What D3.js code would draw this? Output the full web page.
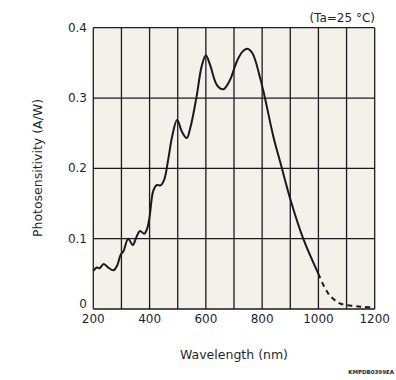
<!DOCTYPE html>
<html><head><meta charset="utf-8">
<script src="https://cdn.jsdelivr.net/npm/d3@7"></script>
<style>body{margin:0;background:#fff;} text{font-family:"DejaVu Sans",Verdana,sans-serif;fill:#1f1f33;}</style>
</head><body>
<script>
const wavelength = [200,212,222,237,250,272,285,297,307,324,340,352,366,381,392,400,413,425,440,452,466,480,498,515,532,545,567,585,600,615,640,662,685,710,730,747,765,792,810,840,869,901,946,1000];
const photosensitivity = [0.054,0.059,0.058,0.064,0.060,0.055,0.062,0.077,0.082,0.100,0.091,0.101,0.111,0.107,0.115,0.131,0.168,0.176,0.176,0.184,0.212,0.245,0.269,0.252,0.243,0.258,0.302,0.345,0.361,0.347,0.318,0.3125,0.325,0.352,0.366,0.370,0.364,0.330,0.300,0.245,0.202,0.155,0.100,0.050];
const wavelengthDashed = [1000,1035,1076,1124,1160,1200];
const photosensitivityDashed = [0.050,0.022,0.008,0.0045,0.003,0.002];
const xTicks = [200,400,600,800,1000,1200];
const xGrid = [200,300,400,500,600,700,800,900,1000,1100,1200];
const yTicks = [0,0.1,0.2,0.3,0.4];
const yTickLabels = ["0","0.1","0.2","0.3","0.4"];

const W=396,H=380;
const svg=d3.select("body").append("svg").attr("width",W).attr("height",H);
const x=d3.scaleLinear().domain([200,1200]).range([93.3,374.7]);
const y=d3.scaleLinear().domain([0,0.4]).range([309,27.7]);

svg.append("rect").attr("x",x(200)).attr("y",y(0.4)).attr("width",x(1200)-x(200)).attr("height",y(0)-y(0.4)).attr("fill","#f4f1ea");

const g=svg.append("g");
g.selectAll(".vg").data(xGrid).enter().append("line")
 .attr("x1",d=>x(d)).attr("x2",d=>x(d)).attr("y1",y(0)).attr("y2",y(0.4))
 .attr("stroke","#1a1a1a").attr("stroke-width",1.3);
g.selectAll(".hg").data(yTicks).enter().append("line")
 .attr("x1",x(200)).attr("x2",x(1200)).attr("y1",d=>y(d)).attr("y2",d=>y(d))
 .attr("stroke","#1a1a1a").attr("stroke-width",1.3);

const line=d3.line().x(d=>x(d[0])).y(d=>y(d[1])).curve(d3.curveCatmullRom.alpha(0.5));
svg.append("path").datum(wavelength.map((w,i)=>[w,photosensitivity[i]]))
 .attr("d",line).attr("fill","none").attr("stroke","#1a1a1a").attr("stroke-width",2);
svg.append("path").datum(wavelengthDashed.map((w,i)=>[w,photosensitivityDashed[i]]))
 .attr("d",line).attr("fill","none").attr("stroke","#1a1a1a").attr("stroke-width",2).attr("stroke-dasharray","5,4");

svg.selectAll(".xt").data(xTicks).enter().append("text")
 .attr("x",d=>x(d)).attr("y",323).attr("text-anchor","middle").attr("font-size","12px").text(d=>d);
svg.selectAll(".yt").data(yTicks).enter().append("text")
 .attr("x",87).attr("y",d=>d===0 ? y(d)-1 : y(d)+4).attr("text-anchor","end").attr("font-size","12px").text((d,i)=>yTickLabels[i]);

svg.append("text").attr("x",(x(200)+x(1200))/2+0).attr("y",359).attr("text-anchor","middle").attr("font-size","12.5px").text("Wavelength (nm)");
svg.append("text").attr("transform","translate(42,168) rotate(-90)").attr("text-anchor","middle").attr("font-size","12.5px").text("Photosensitivity (A/W)");
svg.append("text").attr("x",375).attr("y",22).attr("text-anchor","end").attr("font-size","12px").text("(Ta=25 °C)");
svg.append("text").attr("x",394).attr("y",374).attr("text-anchor","end").attr("font-size","5.5px").attr("font-weight","bold").text("KMPDB0399EA");
</script>
</body></html>
